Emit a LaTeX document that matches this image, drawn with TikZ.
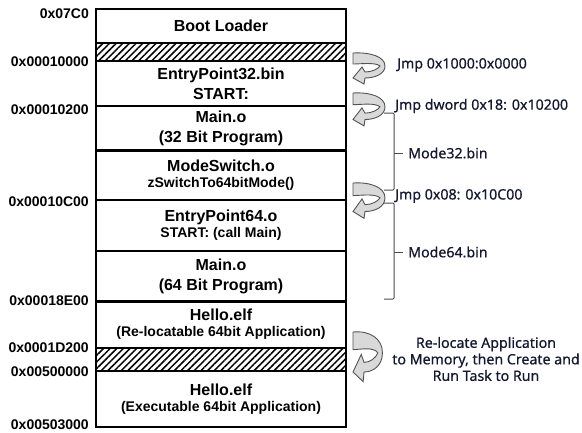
\documentclass[tikz,border=0pt]{standalone}
\usepackage{fontspec}
\setmainfont{Liberation Sans}
\newfontfamily\notefont[FakeBold=0.6]{Noto Sans}
\usetikzlibrary{patterns.meta}
\definecolor{notecolour}{HTML}{141830}
\newcommand{\smallline}[1]{{\fontsize{14}{17}\selectfont #1}}
\tikzset{
  % memory map rows
  mem row/.style = {
    draw,
    line width=1.2pt,
    minimum width=250pt,
    inner sep=0pt,
    align=center,
    font=\fontsize{16}{20}\selectfont\bfseries,
  },
  hatched/.style = {
    pattern={Lines[angle=45,distance=4.7pt,line width=1.5pt]},
  },
  % addresses on the left
  addr/.style = {
    anchor=east,
    inner sep=0pt,
    font=\fontsize{14}{16}\selectfont\bfseries,
  },
  % notes on the right
  note/.style = {
    anchor=west,
    inner sep=0pt,
    text=notecolour,
    font=\fontsize{14.2}{16.5}\selectfont\notefont,
  },
  mode bracket/.style = {
    draw=gray!60!black,
    line width=1pt,
    rounded corners=1pt,
  },
  % curved jump arrow
  jump arrow/.pic = {
    \filldraw[fill=gray!30, draw=gray!65!black, line width=0.9pt]
      (0,0) .. controls (18,-1) and (32,4) .. (32,13)
      .. controls (32,21) and (22,25) .. (12,25)
      -- (11,31) -- (0,25) -- (9,14) -- (12,19)
      .. controls (19,19) and (25,16) .. (27,13)
      .. controls (22,9) and (8,11) .. (0,11) -- cycle;
  },
}
\begin{document}
\begin{tikzpicture}[x=1pt,y=-1pt]
  \useasboundingbox (0,0) rectangle (582,432);
  % memory map
  \node[mem row, minimum height=34pt] (boot) at (221,26) {Boot Loader};
  \node[mem row, hatched, minimum height=18pt] (gapa) at (221,52) {};
  \node[mem row, minimum height=45pt] (entry32) at (221,83.5) {EntryPoint32.bin\\START:};
  \node[mem row, minimum height=44pt] (main32) at (221,128) {Main.o\\(32 Bit Program)};
  \node[mem row, minimum height=50pt] (modesw) at (221,175) {ModeSwitch.o\\[-4pt]\smallline{zSwitchTo64bitMode()}};
  \node[mem row, minimum height=51pt] (entry64) at (221,225.5) {EntryPoint64.o\\[-4pt]\smallline{START: (call Main)}};
  \node[mem row, minimum height=50pt] (main64) at (221,276) {Main.o\\(64 Bit Program)};
  \node[mem row, minimum height=47pt] (helloa) at (221,324.5) {Hello.elf\\[-4pt]\smallline{(Re-locatable 64bit Application)}};
  \node[mem row, hatched, minimum height=23pt] (gapb) at (221,359.5) {};
  \node[mem row, minimum height=56pt] (hellob) at (221,399) {Hello.elf\\[-4pt]\smallline{(Executable 64bit Application)}};
  \draw[line width=2pt] (main32.south west) -- (main32.south east);
  \draw[line width=2pt] (main64.south west) -- (main64.south east);

  % addresses
  \node[addr] (a07c0) at (89,14) {0x07C0};
  \node[addr] (a10000) at (89,62) {0x00010000};
  \node[addr] (a10200) at (89,110) {0x00010200};
  \node[addr] (a10c00) at (89,202) {0x00010C00};
  \node[addr] (a18e00) at (89,301) {0x00018E00};
  \node[addr] (a1d200) at (89,348) {0x0001D200};
  \node[addr] (a500000) at (89,372) {0x00500000};
  \node[addr] (a503000) at (89,425) {0x00503000};

  % jumps
  \pic at (353,53) {jump arrow};
  \pic[yscale=1.06] at (353,93) {jump arrow};
  \pic[yscale=1.14] at (353,183) {jump arrow};
  \pic[xscale=0.92, yscale=1.6] at (353,332) {jump arrow};
  \node[note] (jmpa) at (397,65) {Jmp 0x1000:0x0000};
  \node[note] (jmpb) at (395,106) {Jmp dword 0x18: 0x10200};
  \node[note] (jmpc) at (395,196) {Jmp 0x08: 0x10C00};
  \node[note, anchor=center, align=center] (reloc) at (486,359)
    {Re-locate Application\\to Memory, then Create and\\Run Task to Run};

  % binaries
  \node[note] (mode32) at (408,153) {Mode32.bin};
  \node[note] (mode64) at (408,252) {Mode64.bin};
  \coordinate (m32top) at (384,113);
  \coordinate (m32bot) at (384,190);
  \coordinate (m64top) at (384,203);
  \coordinate (m64bot) at (384,299);
  \draw[mode bracket] (m32top) -- ++(10,0) |- (m32bot);
  \draw[mode bracket] (m64top) -- ++(10,0) |- (m64bot);
  \draw[mode bracket] (394,153) -- ([xshift=-5pt]mode32.west);
  \draw[mode bracket] (394,252) -- ([xshift=-5pt]mode64.west);
\end{tikzpicture}
\end{document}
